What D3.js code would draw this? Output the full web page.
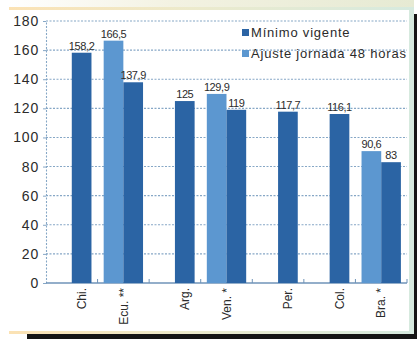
<!DOCTYPE html>
<html>
<head>
<meta charset="utf-8">
<script src="https://cdn.jsdelivr.net/npm/d3@7"></script>
<style>
  html, body { margin: 0; padding: 0; background: #ffffff; }
  svg { display: block; }
  text { font-family: "Liberation Sans", Arial, sans-serif; fill: #2b2b2b; }
</style>
</head>
<body>
<svg id="chart" width="417" height="339"></svg>
<script>
// Salario mínimo por país: vigente vs. ajuste por jornada de 48 horas
const categories = ["Chi.", "Ecu. **", "Arg.", "Ven. *", "Per.", "Col.", "Bra. *"];
const minimoVigente = [158.2, 137.9, 125, 119, 117.7, 116.1, 83];
const ajusteJornada = [null, 166.5, null, 129.9, null, null, 90.6];
const seriesNames = ["Mínimo vigente", "Ajuste jornada 48 horas"];
const yTicks = [0, 20, 40, 60, 80, 100, 120, 140, 160, 180];

const colors = { dark: "#2b64a4", light: "#5c97d0" };

const svg = d3.select("#chart");
const W = 417, H = 339;

// Frame: dark drop shadow, tinted border, white panel
const defs = svg.append("defs");
const grad = defs.append("linearGradient").attr("id", "frameGrad")
  .attr("x1", "0%").attr("x2", "100%").attr("y1", "0%").attr("y2", "0%");
grad.append("stop").attr("offset", "0%").attr("stop-color", "#fbe2b4");
grad.append("stop").attr("offset", "45%").attr("stop-color", "#eceacc");
grad.append("stop").attr("offset", "100%").attr("stop-color", "#d6eadf");
const topGrad = defs.append("linearGradient").attr("id", "topGrad")
  .attr("x1", "0%").attr("x2", "100%");
topGrad.append("stop").attr("offset", "0%").attr("stop-color", "#ffffff");
topGrad.append("stop").attr("offset", "40%").attr("stop-color", "#f3f2e2");
topGrad.append("stop").attr("offset", "100%").attr("stop-color", "#e6ead3");

svg.append("rect").attr("x", 27).attr("y", 14).attr("width", W - 27).attr("height", H - 14).attr("fill", "#151515");
svg.append("rect").attr("x", 9).attr("y", 0).attr("width", 405).attr("height", 8).attr("fill", "url(#topGrad)");
svg.append("rect").attr("x", 9).attr("y", 7).attr("width", 405).attr("height", 327).attr("fill", "url(#frameGrad)");
svg.append("rect").attr("x", 9).attr("y", 10).attr("width", 400).attr("height", 321).attr("fill", "#ffffff");

// Scales
const x0 = d3.scaleBand().domain(categories).range([46, 407]).paddingInner(0).paddingOuter(0);
const x1 = d3.scaleBand().domain(["ajuste", "minimo"]).range([0, x0.bandwidth()])
  .paddingInner(0).paddingOuter(0.31);
const y = d3.scaleLinear().domain([0, 180]).range([283, 21]);

// Horizontal gridlines
svg.append("g").selectAll("line").data(yTicks.filter(d => d > 0)).join("line")
  .attr("x1", 46).attr("x2", 407)
  .attr("y1", d => y(d)).attr("y2", d => y(d))
  .attr("stroke", "#86a7c6").attr("stroke-width", 1.1)
  .attr("stroke-dasharray", "2,1.5");

// Y axis
const yAxis = d3.axisLeft(y).tickValues(yTicks).tickSize(3).tickPadding(4);
const gy = svg.append("g").attr("transform", "translate(46,0)").call(yAxis);
gy.select(".domain").attr("stroke", "#86a7c6").attr("stroke-dasharray", "2,1.5").attr("stroke-width", 1.1);
gy.selectAll(".tick line").attr("stroke", "#86a7c6");
gy.selectAll(".tick text")
  .attr("font-family", "Liberation Sans, Arial, sans-serif")
  .attr("font-size", 14).attr("fill", "#2b2b2b").attr("letter-spacing", 0.8);

// Baseline with small tick marks between countries
svg.append("line").attr("x1", 46).attr("x2", 407).attr("y1", y(0)).attr("y2", y(0))
  .attr("stroke", "#6f93b8").attr("stroke-width", 1.4);
svg.append("g").selectAll("line").data(categories).join("line")
  .attr("x1", d => x0(d) + x0.bandwidth()).attr("x2", d => x0(d) + x0.bandwidth())
  .attr("y1", y(0)).attr("y2", y(0) - 4)
  .attr("stroke", "#6f93b8").attr("stroke-width", 1);

// Bars
const rows = categories.map((c, i) => ({ cat: c, ajuste: ajusteJornada[i], minimo: minimoVigente[i] }));
const fmt = d3.formatLocale({ decimal: ",", thousands: ".", grouping: [3], currency: ["", ""] }).format("~f");

const barData = [];
rows.forEach(r => {
  if (r.ajuste != null) barData.push({ cat: r.cat, key: "ajuste", v: r.ajuste });
  if (r.minimo != null) barData.push({ cat: r.cat, key: "minimo", v: r.minimo });
});

svg.append("g").selectAll("rect").data(barData).join("rect")
  .attr("x", d => x0(d.cat) + x1(d.key))
  .attr("y", d => y(d.v))
  .attr("width", x1.bandwidth())
  .attr("height", d => y(0) - y(d.v))
  .attr("fill", d => d.key === "minimo" ? colors.dark : colors.light);

// Value labels
svg.append("g").selectAll("text").data(barData).join("text")
  .attr("x", d => x0(d.cat) + x1(d.key) + x1.bandwidth() / 2)
  .attr("y", d => y(d.v) - 3)
  .attr("text-anchor", "middle")
  .attr("font-size", 11)
  .attr("letter-spacing", -0.4)
  .text(d => fmt(d.v));

// Country labels, rotated, centred under the bars present
svg.append("g").selectAll("text").data(rows).join("text")
  .attr("transform", r => {
    const keys = [r.ajuste != null ? "ajuste" : null, "minimo"].filter(Boolean);
    const left = x0(r.cat) + x1(keys[0]);
    const right = x0(r.cat) + x1(keys[keys.length - 1]) + x1.bandwidth();
    return `translate(${(left + right) / 2},288) rotate(-90)`;
  })
  .attr("text-anchor", "end")
  .attr("dy", "0.35em")
  .attr("font-size", 12)
  .attr("fill", "#1f1f1f")
  .text(r => r.cat);

// Legend
const legend = svg.append("g").attr("transform", "translate(242,29)");
const legendItems = [
  { name: seriesNames[0], color: colors.dark },
  { name: seriesNames[1], color: colors.light }
];
const li = legend.selectAll("g").data(legendItems).join("g")
  .attr("transform", (d, i) => `translate(0,${i * 21})`);
li.append("rect").attr("width", 7).attr("height", 7).attr("fill", d => d.color);
li.append("text").attr("x", 9).attr("y", 7.5).attr("font-size", 13)
  .attr("letter-spacing", 0.8).text(d => d.name);
</script>
</body>
</html>
